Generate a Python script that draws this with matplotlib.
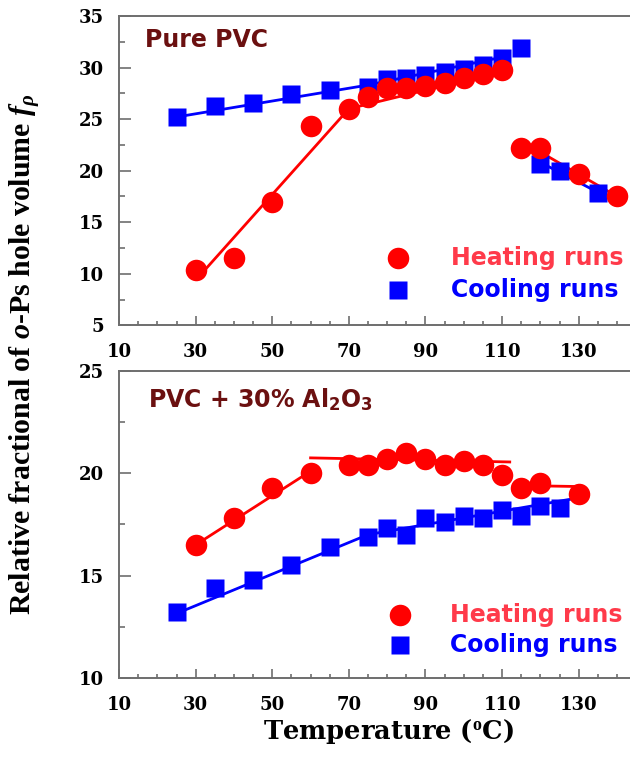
import matplotlib

matplotlib.use("Agg")

import matplotlib.pyplot as plt
from matplotlib.ticker import MultipleLocator

plt.rcParams["mathtext.fontset"] = "custom"
plt.rcParams["mathtext.rm"] = "Liberation Serif:bold"
plt.rcParams["mathtext.it"] = "Liberation Serif:italic:bold"
plt.rcParams["mathtext.bf"] = "Liberation Serif:bold"
plt.rcParams["mathtext.sf"] = "DejaVu Sans:bold"

# Pure PVC
pvc_heat_t = [30, 40, 50, 60, 70, 75, 80, 85, 90, 95, 100, 105, 110, 115, 120, 130, 140]
pvc_heat_f = [10.4, 11.5, 17.0, 24.3, 26.0, 27.1, 28.0, 28.0, 28.2, 28.5, 29.0, 29.4, 29.8,
              22.2, 22.2, 19.7, 17.5]
pvc_cool_t = [25, 35, 45, 55, 65, 75, 80, 85, 90, 95, 100, 105, 110, 115, 120, 125, 135]
pvc_cool_f = [25.2, 26.3, 26.6, 27.4, 27.8, 28.1, 28.9, 29.0, 29.3, 29.6, 29.9, 30.2, 30.9,
              31.9, 20.6, 20.0, 17.8]
pvc_heat_fit = [([32, 70, 110], [10.2, 26.0, 29.6]), ([120, 140], [21.8, 17.5])]
pvc_cool_fit = [([25, 75, 110], [25.2, 28.3, 31.0]), ([119, 135], [21.0, 17.9])]

# PVC + 30% Al2O3
al_heat_t = [30, 40, 50, 60, 70, 75, 80, 85, 90, 95, 100, 105, 110, 115, 120, 130]
al_heat_f = [16.5, 17.8, 19.3, 20.0, 20.4, 20.4, 20.7, 21.0, 20.7, 20.4, 20.6, 20.4, 19.9,
             19.3, 19.5, 19.0]
al_cool_t = [25, 35, 45, 55, 65, 75, 80, 85, 90, 95, 100, 105, 110, 115, 120, 125]
al_cool_f = [13.2, 14.4, 14.8, 15.5, 16.4, 16.9, 17.3, 17.0, 17.8, 17.6, 17.9, 17.8, 18.2,
             17.9, 18.4, 18.3]
al_heat_fit = [([30, 60], [16.5, 20.1]), ([60, 112], [20.75, 20.55]), ([114, 130], [19.4, 19.35])]
al_cool_fit = [([27, 75, 130], [13.3, 17.0, 18.8])]

RED = "#ff0000"
BLUE = "#0000ff"
HEAT_TXT = "#ff3a4a"
TITLE_CLR = "#6b1010"
SPINE = "#6e6e6e"
SANS = "DejaVu Sans"
SERIF = "DejaVu Serif"


def style_axes(ax, ylim):
    ax.set_xlim(10, 143.4)
    ax.set_ylim(*ylim)
    ax.xaxis.set_major_locator(MultipleLocator(20))
    ax.xaxis.set_minor_locator(MultipleLocator(5))
    ax.yaxis.set_major_locator(MultipleLocator(5))
    ax.yaxis.set_minor_locator(MultipleLocator(2.5))
    ax.set_xticks(range(10, 131, 20))
    ax.spines["right"].set_visible(False)
    for s in ["left", "bottom", "top"]:
        ax.spines[s].set_color(SPINE)
        ax.spines[s].set_linewidth(1.4)
    ax.tick_params(which="both", direction="in", color=SPINE, width=1.2, top=False, right=False)
    ax.tick_params(axis="x", which="major", length=6.5, pad=13)
    ax.tick_params(axis="x", which="minor", length=3)
    ax.tick_params(axis="y", which="major", length=8.5, pad=11)
    ax.tick_params(axis="y", which="minor", length=4.5)
    for lab in ax.get_xticklabels() + ax.get_yticklabels():
        lab.set_fontfamily(SERIF)
        lab.set_fontweight("bold")
        lab.set_fontsize(13)


def draw_panel(ax, heat_t, heat_f, cool_t, cool_f, heat_fit, cool_fit):
    for xs, ys in cool_fit:
        ax.plot(xs, ys, color=BLUE, lw=2, zorder=2)
    for xs, ys in heat_fit:
        ax.plot(xs, ys, color=RED, lw=2, zorder=2)
    ax.plot(cool_t, cool_f, "s", color=BLUE, ms=13, mec="none", zorder=3, clip_on=False)
    ax.plot(heat_t, heat_f, "o", color=RED, ms=15.5, mec="none", zorder=4, clip_on=False)


def legend_block(ax, mx, tx, y_heat, y_cool):
    ax.plot([mx], [y_heat], "o", color=RED, ms=15.5, mec="none", transform=ax.transAxes,
            clip_on=False)
    ax.plot([mx], [y_cool], "s", color=BLUE, ms=13, mec="none", transform=ax.transAxes,
            clip_on=False)
    kw = dict(transform=ax.transAxes, fontfamily=SANS, fontweight="bold",
              fontsize=17, va="center", ha="left")
    ax.text(tx, y_heat, "Heating runs", color=HEAT_TXT, **kw)
    ax.text(tx, y_cool, "Cooling runs", color=BLUE, **kw)


fig = plt.figure(figsize=(6.3, 7.6), dpi=100)
ax1 = fig.add_axes([0.189, 0.572, 0.811, 0.407])
ax2 = fig.add_axes([0.189, 0.108, 0.811, 0.404])

draw_panel(ax1, pvc_heat_t, pvc_heat_f, pvc_cool_t, pvc_cool_f, pvc_heat_fit, pvc_cool_fit)
draw_panel(ax2, al_heat_t, al_heat_f, al_cool_t, al_cool_f, al_heat_fit, al_cool_fit)
style_axes(ax1, (5, 35))
style_axes(ax2, (10, 25))

ax1.text(0.05, 0.922, "Pure PVC", transform=ax1.transAxes, color=TITLE_CLR,
         fontfamily=SANS, fontweight="bold", fontsize=17, va="center")
ax2.text(0.056, 0.905, r"PVC + 30% Al$_\mathsf{2}$O$_\mathsf{3}$", transform=ax2.transAxes,
         color=TITLE_CLR, fontfamily=SANS, fontweight="bold", fontsize=17, va="center")
legend_block(ax1, 0.545, 0.650, 0.217, 0.113)
legend_block(ax2, 0.549, 0.648, 0.205, 0.107)

fig.text(0.617, 0.037, r"Temperature ($^{\rm o}$C)", ha="center", va="center",
         fontfamily=SERIF, fontweight="bold", fontsize=18.5)
fig.text(0.04, 0.534, r"Relative fractional of $\it{o}$-Ps hole volume $\it{f}_{\rho}$",
         rotation=90, ha="center", va="center", fontfamily="Liberation Serif",
         fontweight="bold", fontsize=21.5)

fig.savefig("out.png", dpi=100)
